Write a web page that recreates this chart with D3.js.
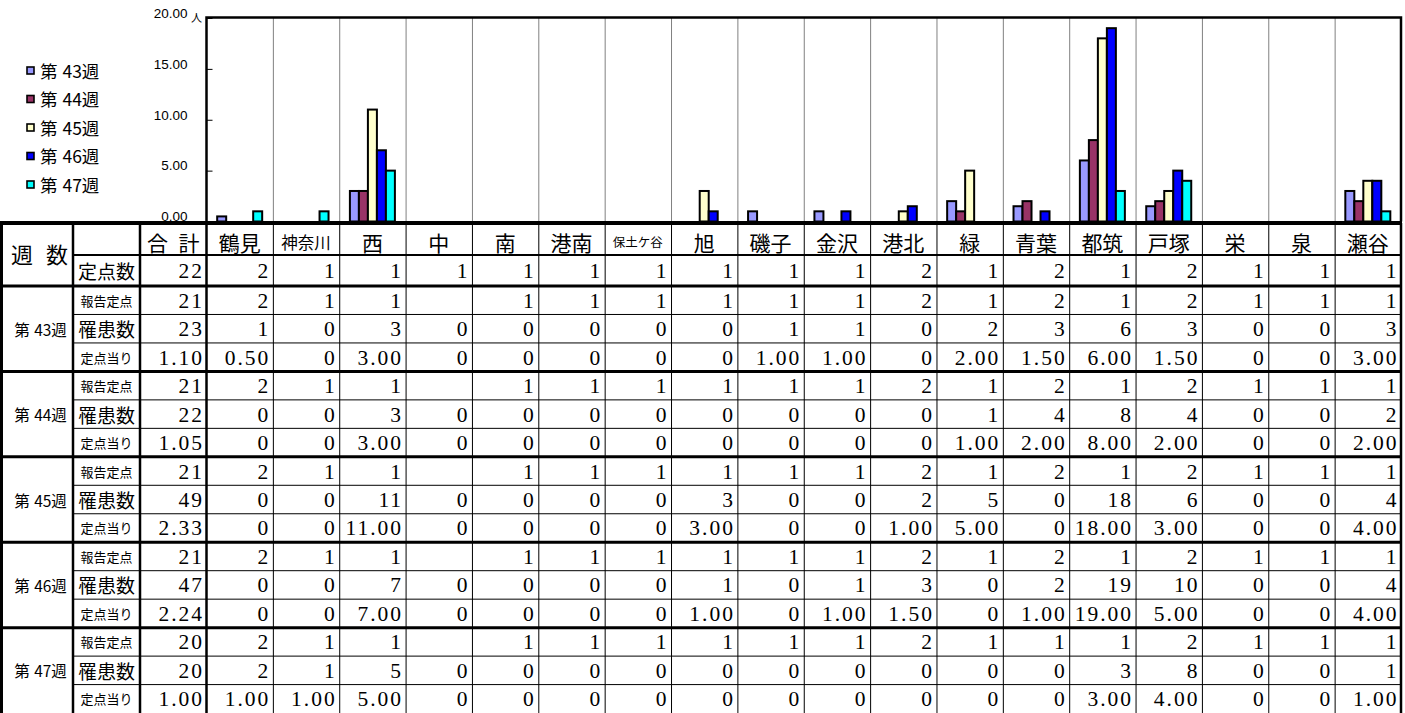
<!DOCTYPE html>
<html>
<head>
<meta charset="utf-8">
<script src="https://cdn.jsdelivr.net/npm/d3@7"></script>
<style>
  html, body { margin: 0; padding: 0; background: #fff; }
  svg { display: block; }
</style>
</head>
<body>
<svg id="chart" width="1405" height="713"></svg>
<script>
// ---- data ----
const districts = ["鶴見","神奈川","西","中","南","港南","保土ケ谷","旭","磯子","金沢","港北","緑","青葉","都筑","戸塚","栄","泉","瀬谷"];
const weeks = ["第 43週","第 44週","第 45週","第 46週","第 47週"];
const weekColors = ["#9999FF","#993366","#FFFFCC","#0000FF","#00FFFF"];
const yTicks = [0, 5, 10, 15, 20];

// 定点数
const sitesTotal = 22;
const sites = [2,1,1,1,1,1,1,1,1,1,2,1,2,1,2,1,1,1];

// 報告定点 (null = blank cell)
const reportTotals = [21, 21, 21, 21, 20];
const report43 = [2,1,1,null,1,1,1,1,1,1,2,1,2,1,2,1,1,1];
const report44 = [2,1,1,null,1,1,1,1,1,1,2,1,2,1,2,1,1,1];
const report45 = [2,1,1,null,1,1,1,1,1,1,2,1,2,1,2,1,1,1];
const report46 = [2,1,1,null,1,1,1,1,1,1,2,1,2,1,2,1,1,1];
const report47 = [2,1,1,null,1,1,1,1,1,1,2,1,1,1,2,1,1,1];

// 罹患数
const caseTotals = [23, 22, 49, 47, 20];
const cases43 = [1,0,3,0,0,0,0,0,1,1,0,2,3,6,3,0,0,3];
const cases44 = [0,0,3,0,0,0,0,0,0,0,0,1,4,8,4,0,0,2];
const cases45 = [0,0,11,0,0,0,0,3,0,0,2,5,0,18,6,0,0,4];
const cases46 = [0,0,7,0,0,0,0,1,0,1,3,0,2,19,10,0,0,4];
const cases47 = [2,1,5,0,0,0,0,0,0,0,0,0,0,3,8,0,0,1];

// 定点当り
const rateTotals = [1.10, 1.05, 2.33, 2.24, 1.00];
const rate43 = [0.5,0,3,0,0,0,0,0,1,1,0,2,1.5,6,1.5,0,0,3];
const rate44 = [0,0,3,0,0,0,0,0,0,0,0,1,2,8,2,0,0,2];
const rate45 = [0,0,11,0,0,0,0,3,0,0,1,5,0,18,3,0,0,4];
const rate46 = [0,0,7,0,0,0,0,1,0,1,1.5,0,1,19,5,0,0,4];
const rate47 = [1,1,5,0,0,0,0,0,0,0,0,0,0,3,4,0,0,1];

const reports = [report43, report44, report45, report46, report47];
const cases = [cases43, cases44, cases45, cases46, cases47];
const rates = [rate43, rate44, rate45, rate46, rate47];

// ---- layout ----
const svg = d3.select("#chart");
const plotLeft = 206.5, plotRight = 1401, plotTop = 17.5, plotBottom = 221.5;
const tableTop = 223, headerBottom = 255, sitesBottom = 286, rowH = 28.47;
const colEdges = [1, 73, 140, plotLeft];

const x = d3.scaleBand().domain(districts).range([plotLeft, plotRight]).padding(0);
const bw = x.bandwidth();
const groupW = 45;
const xw = d3.scaleBand().domain(weeks).range([(bw - groupW) / 2, (bw + groupW) / 2]).padding(0);
const y = d3.scaleLinear().domain([0, 20]).range([plotBottom, 18]);

const jp = "'Noto Sans CJK JP', sans-serif";
const num = "'Liberation Serif', 'Noto Sans CJK JP', serif";

// ---- chart ----
const plot = svg.append("g");

// vertical separators between districts
plot.selectAll("line.grid")
  .data(districts.slice(1))
  .join("line")
  .attr("class", "grid")
  .attr("x1", d => x(d) + 0.5).attr("x2", d => x(d) + 0.5)
  .attr("y1", plotTop).attr("y2", plotBottom)
  .attr("stroke", "#808080").attr("stroke-width", 1);

// bars (zero values are not drawn)
const barData = [];
rates.forEach((arr, wi) => arr.forEach((v, di) => {
  if (v > 0) barData.push({ week: weeks[wi], district: districts[di], value: v, color: weekColors[wi] });
}));
plot.selectAll("rect.bar")
  .data(barData)
  .join("rect")
  .attr("class", "bar")
  .attr("x", d => x(d.district) + xw(d.week))
  .attr("width", xw.bandwidth())
  .attr("y", d => y(d.value))
  .attr("height", d => y(0) - y(d.value))
  .attr("fill", d => d.color)
  .attr("stroke", "#000").attr("stroke-width", 2);

// y axis
const yAxis = d3.axisLeft(y).tickValues(yTicks).tickFormat(d3.format(".2f"))
  .tickSizeInner(-6).tickSizeOuter(0).tickPadding(19);
const ag = svg.append("g").attr("transform", `translate(${plotLeft},0)`).call(yAxis);
ag.select(".domain").remove();
ag.selectAll(".tick line").attr("stroke", "#000").attr("stroke-width", 1);
ag.selectAll(".tick text")
  .attr("font-family", "'Liberation Sans', Arial, sans-serif")
  .attr("font-size", 13.5).attr("fill", "#000").attr("dy", "-0.05em");
svg.append("text").text("人")
  .attr("x", 191).attr("y", 22)
  .attr("font-family", jp).attr("font-size", 11).attr("fill", "#000");

// plot frame
svg.append("path")
  .attr("d", `M${plotLeft},${plotBottom}V${plotTop}H${plotRight}V${plotBottom}`)
  .attr("fill", "none").attr("stroke", "#000").attr("stroke-width", 2.5);

// legend
const lg = svg.append("g");
weeks.forEach((w, i) => {
  const cy = 71 + i * 28.5;
  lg.append("rect").attr("x", 27).attr("y", cy - 4).attr("width", 7).attr("height", 7)
    .attr("fill", weekColors[i]).attr("stroke", "#000").attr("stroke-width", 1.6);
  lg.append("text").text(w).attr("x", 40).attr("y", cy + 6.5)
    .attr("font-family", jp).attr("font-size", 17.5).attr("fill", "#000")
    .attr("word-spacing", 1);
});

// ---- table ----
const tg = svg.append("g");
const colRight = d => x(d) + bw;
const fmtRate = v => v === 0 ? "0" : v.toFixed(2);
const rowCenter = i => sitesBottom + (i + 0.5) * rowH;
const numSpacing = 2;

function numText(txt, xr, cy) {
  if (txt === null || txt === undefined) return;
  tg.append("text").text(txt)
    .attr("x", xr - 4.5 + numSpacing).attr("y", cy + 7.5)
    .attr("text-anchor", "end")
    .attr("letter-spacing", numSpacing)
    .attr("font-family", num).attr("font-size", 21.5).attr("fill", "#000");
}
function jpText(txt, cx, cy, size, ws) {
  tg.append("text").text(txt)
    .attr("x", cx).attr("y", cy)
    .attr("text-anchor", "middle").attr("dominant-baseline", "central")
    .attr("font-family", jp).attr("font-size", size).attr("fill", "#000")
    .attr("word-spacing", ws || 0);
}

// header row
jpText("週 数", 39.5, 253, 22, 8);
jpText("合 計", (140 + plotLeft) / 2, 241.5, 21, 6);
const headerSize = d => d === "保土ケ谷" ? 12.5 : d === "神奈川" ? 16.5 : 21;
districts.forEach(d => jpText(d, x(d) + bw / 2, 241.5, headerSize(d)));

// 定点数 row
const sitesCy = (headerBottom + sitesBottom) / 2;
jpText("定点数", 106.5, sitesCy, 19);
numText(sitesTotal, plotLeft, sitesCy);
districts.forEach((d, i) => numText(sites[i], colRight(d), sitesCy));

// week groups
const rowLabels = [["報告定点", 13], ["罹患数", 19], ["定点当り", 13]];
weeks.forEach((w, wi) => {
  const base = wi * 3;
  jpText(w, 40.5, rowCenter(base + 1), 15.5, 1);
  const rowsData = [
    [reportTotals[wi], reports[wi]],
    [caseTotals[wi], cases[wi]],
    [rateTotals[wi].toFixed(2), rates[wi].map(fmtRate)]
  ];
  rowsData.forEach(([tot, arr], ri) => {
    const cy = rowCenter(base + ri);
    jpText(rowLabels[ri][0], 106.5, cy, rowLabels[ri][1]);
    numText(tot, plotLeft, cy);
    districts.forEach((d, di) => numText(arr[di], colRight(d), cy));
  });
});

// grid lines
const bottom = 713;
function hline(yv, x1, x2, w) {
  tg.append("line").attr("x1", x1).attr("x2", x2).attr("y1", yv).attr("y2", yv)
    .attr("stroke", "#000").attr("stroke-width", w);
}
function vline(xv, y1, y2, w) {
  tg.append("line").attr("x1", xv).attr("x2", xv).attr("y1", y1).attr("y2", y2)
    .attr("stroke", "#000").attr("stroke-width", w);
}
// thin district separators
districts.slice(1).forEach(d => vline(x(d) + 0.5, tableTop, bottom, 1));
// thin rows inside week groups
for (let i = 0; i < 15; i++) {
  if (i % 3 !== 0) hline(sitesBottom + i * rowH, 73, plotRight, 1);
}
hline(headerBottom, 73, plotRight, 1.8);
// thick lines
for (let g = 0; g <= 4; g++) hline(sitesBottom + g * 3 * rowH, 0, plotRight + 1, 3);
hline(tableTop, 0, plotRight + 1, 4);
colEdges.forEach((cx, i) => vline(cx + (i === 0 ? 0.5 : 0), tableTop, bottom, i === 0 ? 3 : 2.5));
vline(plotRight, tableTop, bottom, 2.5);
</script>
</body>
</html>
